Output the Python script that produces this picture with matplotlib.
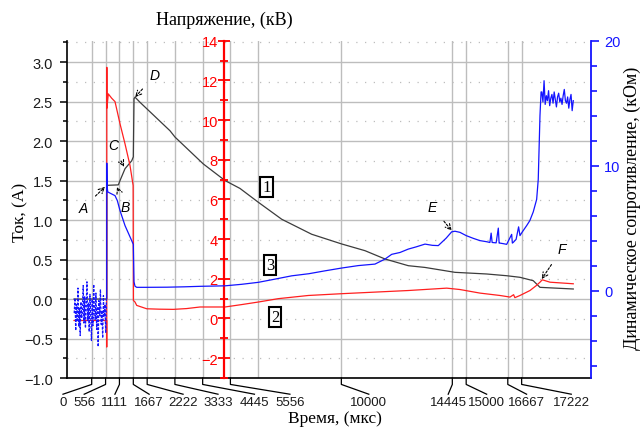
"""
Ток, напряжение и динамическое сопротивление разряда
"""

import matplotlib
matplotlib.use('Agg')
from matplotlib import pyplot as plt
from matplotlib import transforms
from matplotlib.ticker import MultipleLocator

plt.rcParams['font.family'] = ['Liberation Sans', 'DejaVu Sans']
SERIF = ['Liberation Serif', 'DejaVu Serif']

# подписи оси времени (мкс) и где они стоят под осью
time_labels = [0, 556, 1111, 1667, 2222, 3333, 4445, 5556, 10000, 14445, 15000, 16667, 17222]
label_pos = [-1150, -300, 930, 2300, 3660, 5060, 6520, 7940, 11100, 14280, 15820, 17420, 19210]
grid_times = time_labels + [6667]

# 1 - ток, А
cur_t = [-708, 602, 604, 666, 1067, 1135, 1335, 1603, 1667, 1695, 1735, 1936, 3137, 3337,
         4471, 5340, 5940, 6674, 7611, 8812, 10014, 10947, 11748, 12681, 13350, 14551,
         15821, 16622, 17155, 17687, 17956, 19290]
cur = [0.0, 0.0, 1.436, 1.44, 1.445, 1.5, 1.65, 1.75, 1.8, 2.535, 2.556, 2.49, 2.13, 2.05,
       1.71, 1.5, 1.4, 1.225, 1.01, 0.82, 0.697, 0.612, 0.507, 0.422, 0.40, 0.338,
       0.317, 0.295, 0.275, 0.232, 0.148, 0.127]

# 2 - напряжение, кВ
volt_t = [-708, 600, 602, 606, 608, 666, 802, 934, 1135, 1335, 1535, 1660, 1670, 1735, 1803,
          2204, 2700, 3269, 3800, 4339, 5340, 6000, 6674, 7475, 8676, 10014, 11347, 12681,
          14219, 14752, 15553, 16354, 16755, 16900, 16950, 17155, 17555, 17800, 17956,
          18050, 18357, 19290]
volt = [-0.1, -0.1, -1.44, 12.66, 10.6, 11.32, 11.1, 10.93, 9.81, 8.8, 7.71, 6.7, 0.91, 0.83,
        0.66, 0.49, 0.47, 0.46, 0.5, 0.58, 0.58, 0.7, 0.83, 1.0, 1.16, 1.25, 1.33, 1.41,
        1.53, 1.46, 1.28, 1.16, 1.08, 1.2, 1.05, 1.16, 1.41, 1.65, 1.83, 1.95, 1.83, 1.75]

# 3 - динамическое сопротивление, кОм: шум до разряда
noise_t = [-700, -670, -640, -610, -580, -550, -520, -490, -460, -430, -400, -370, -340,
           -310, -280, -250, -220, -190, -160, -130, -100, -70, -40, -10, 20, 50, 80, 110,
           140, 170, 200, 230, 260, 290, 320, 350, 380, 410, 440, 470, 500, 530, 560, 590]
noise_r = [-1.8, -0.6, -3.2, -1.1, -2.5, 0.2, -2.9, -1.4, -3.6, -0.9, -2.2, -1.7, 0.4, -2.6,
           -0.5, -3.0, -1.2, 0.7, -2.4, -1.0, -3.3, -0.3, -1.9, -4.0, -0.7, -2.8, 0.5, -1.5,
           -2.3, -0.2, -3.1, -1.3, -4.5, -0.8, -2.0, 0.1, -2.7, -1.6, -3.8, -0.4, -2.1, -1.1,
           -3.4, -0.6]
res_t = [600, 604, 615, 642, 734, 934, 1027, 1135, 1335, 1535, 1667, 1695, 1735, 1803, 2204,
         3005, 3700, 4339, 5340, 6000, 6674, 7300, 8011, 8700, 9345, 10000, 10679, 11347,
         11748, 12016, 12350, 12681, 13000, 13350, 13650, 13883, 14200, 14419, 14551, 14752,
         15000, 15285, 15550, 15821, 15950, 16000, 16040, 16200, 16287, 16320, 16354, 16500,
         16622, 16822, 16850, 16888, 17000, 17100, 17155, 17250, 17423, 17550, 17687, 17823,
         17887, 17956, 18000]
res = [-0.6, 10.2, 8.4, 7.9, 7.8, 7.6, 7.2, 6.4, 5.2, 4.3, 3.7, 0.7, 0.35, 0.26, 0.26,
       0.27, 0.3, 0.34, 0.38, 0.5, 0.66, 0.9, 1.18, 1.35, 1.58, 1.8, 2.0, 2.12,
       2.52, 2.9, 3.05, 3.32, 3.5, 3.72, 3.62, 3.6, 4.2, 4.7, 4.75, 4.66,
       4.4, 4.18, 4.0, 3.91, 3.85, 4.6, 3.85, 3.82, 5.0, 3.8, 3.8, 3.75,
       3.7, 4.5, 3.8, 3.86, 4.1, 5.1, 4.4, 4.7, 5.2, 5.6, 6.3, 7.3,
       8.9, 14.0, 15.9]
plateau_t = [18030, 18075, 18120, 18165, 18210, 18255, 18300, 18345, 18390, 18435, 18480,
             18525, 18570, 18615, 18660, 18705, 18750, 18795, 18840, 18885, 18930, 18975,
             19020, 19065, 19110, 19155, 19200, 19245, 19290]
plateau_r = [15.9, 15.1, 16.8, 14.9, 15.6, 15.2, 16.0, 14.8, 15.4, 15.7, 15.0, 15.9, 15.3,
             14.7, 15.5, 15.8, 15.1, 15.4, 14.9, 15.6, 16.1, 15.2, 15.0, 15.5, 14.6, 15.3,
             15.7, 14.4, 15.2]

# метки точек: буква, точка на кривой тока, место буквы
notes = [
    ('A', (534, 1.42), (-347, 1.153)),
    ('B', (1015, 1.42), (1335, 1.166)),
    ('C', (1295, 1.673), (858, 1.95)),
    ('D', (1735, 2.556), (2536, 2.83)),
    ('E', (14419, 0.866), (13635, 1.166)),
    ('F', (18024, 0.253), (18838, 0.633)),
]
boxes = [('1', 7002, 1.413), ('3', 7142, 0.431), ('2', 7343, -0.228)]

GRID = '#bdbdbd'
BLACK = '#3c3c3c'
RED = '#ff1f1f'
BLUE = '#1414ff'


def main():
    fig = plt.figure(figsize=(6.41, 4.31), dpi=100)
    ax = fig.add_axes([0.1041, 0.1206, 0.8179, 0.7826])

    ax.set_xlim(-1000, 20000)
    ax.set_ylim(-1.0, 3.27)
    ax.set_xticks(grid_times)
    ax.set_xticklabels([])
    ax.tick_params(axis='x', length=0)
    ax.yaxis.set_major_locator(MultipleLocator(0.5))
    ax.yaxis.set_minor_locator(MultipleLocator(0.25))
    ax.tick_params(axis='y', which='major', direction='out', length=5, width=1.1,
                   pad=5, labelsize=10.5, labelcolor='#1a1a1a')
    ax.tick_params(axis='y', which='minor', direction='out', length=3, width=1.1)
    ax.grid(True, which='major', color=GRID, lw=1.0)
    ax.grid(True, which='minor', axis='y', color=GRID, lw=0.9, ls=(0, (1, 6)))
    ax.set_axisbelow(True)
    for s in ('top', 'right'):
        ax.spines[s].set_visible(False)
    for s in ('left', 'bottom'):
        ax.spines[s].set_linewidth(1.2)

    ax.plot(cur_t, cur, color=BLACK, lw=0.9, zorder=3)

    # ось напряжения внутри поля графика
    ax_v = ax.twinx()
    for s in ax_v.spines.values():
        s.set_visible(False)
    ax_v.spines['left'].set_visible(True)
    ax_v.spines['left'].set_position(('axes', 0.30))
    ax_v.spines['left'].set_color('red')
    ax_v.spines['left'].set_linewidth(1.6)
    ax_v.yaxis.set_ticks_position('left')
    ax_v.set_ylim(-3, 14)
    ax_v.yaxis.set_major_locator(MultipleLocator(2))
    ax_v.yaxis.set_minor_locator(MultipleLocator(1))
    ax_v.tick_params(axis='y', which='major', direction='inout', length=9, width=1.3,
                     colors='red', pad=0, labelsize=10.5)
    ax_v.tick_params(axis='y', which='minor', direction='inout', length=6, width=1.3,
                     colors='red')
    ax_v.plot(volt_t, volt, color=RED, lw=0.9)

    # ось сопротивления справа
    ax_r = ax.twinx()
    for s in ('top', 'left', 'bottom'):
        ax_r.spines[s].set_visible(False)
    ax_r.spines['right'].set_color(BLUE)
    ax_r.spines['right'].set_linewidth(1.3)
    ax_r.set_ylim(-7, 20)
    ax_r.set_yticks([0, 10, 20])
    ax_r.yaxis.set_minor_locator(MultipleLocator(2))
    ax_r.tick_params(axis='y', which='major', direction='out', length=6, width=1.2,
                     colors=BLUE, pad=3.5, labelsize=10.5)
    ax_r.tick_params(axis='y', which='minor', direction='out', length=4, width=1.2,
                     colors=BLUE)
    ax_r.plot(noise_t, noise_r, color=BLUE, lw=0.9, ls=(0, (2, 1.2)))
    ax_r.plot(res_t + plateau_t, res + plateau_r, color=BLUE, lw=0.9)

    # подписи времени с выносками
    trans = transforms.blended_transform_factory(ax.transData, ax.transAxes)
    for t, lx in zip(time_labels, label_pos):
        ax.plot([t, t, lx], [0, -0.019, -0.048], color='k', lw=0.9,
                transform=trans, clip_on=False)
        ax.text(lx, -0.052, str(t), transform=trans, ha='center', va='top',
                fontsize=9.5, color='#1a1a1a')
    ax.set_xlim(-1000, 20000)

    for s, xy, xyt in notes:
        ax.annotate(s, xy=xy, xytext=xyt, fontsize=10, style='italic',
                    ha='center', va='center', zorder=5,
                    arrowprops=dict(arrowstyle='->', ls=(0, (2, 1.5)), lw=0.8,
                                    color='k', shrinkA=5, shrinkB=0))

    for s, x, y in boxes:
        ax.text(x, y, s, family=SERIF, fontsize=12, ha='center', va='center', zorder=5,
                bbox=dict(boxstyle='square,pad=0.12', fc='white', ec='k', lw=1.5))

    fig.text(20 / 641, 1 - 212 / 431, 'Ток, (А)', rotation=90, family=SERIF,
             fontsize=12.5, ha='center', va='center')
    fig.text(224 / 641, 1 - 20 / 431, 'Напряжение, (кВ)', family=SERIF,
             fontsize=13, ha='center', va='center')
    fig.text(335 / 641, 1 - 419 / 431, 'Время, (мкс)', family=SERIF,
             fontsize=12.5, ha='center', va='center')
    fig.text(632 / 641, 1 - 208 / 431, 'Динамическое сопротивление, (кОм)', rotation=90,
             family=SERIF, fontsize=13, ha='center', va='center')

    fig.savefig('out.png', dpi=100, facecolor='white')


if __name__ == '__main__':
    main()
